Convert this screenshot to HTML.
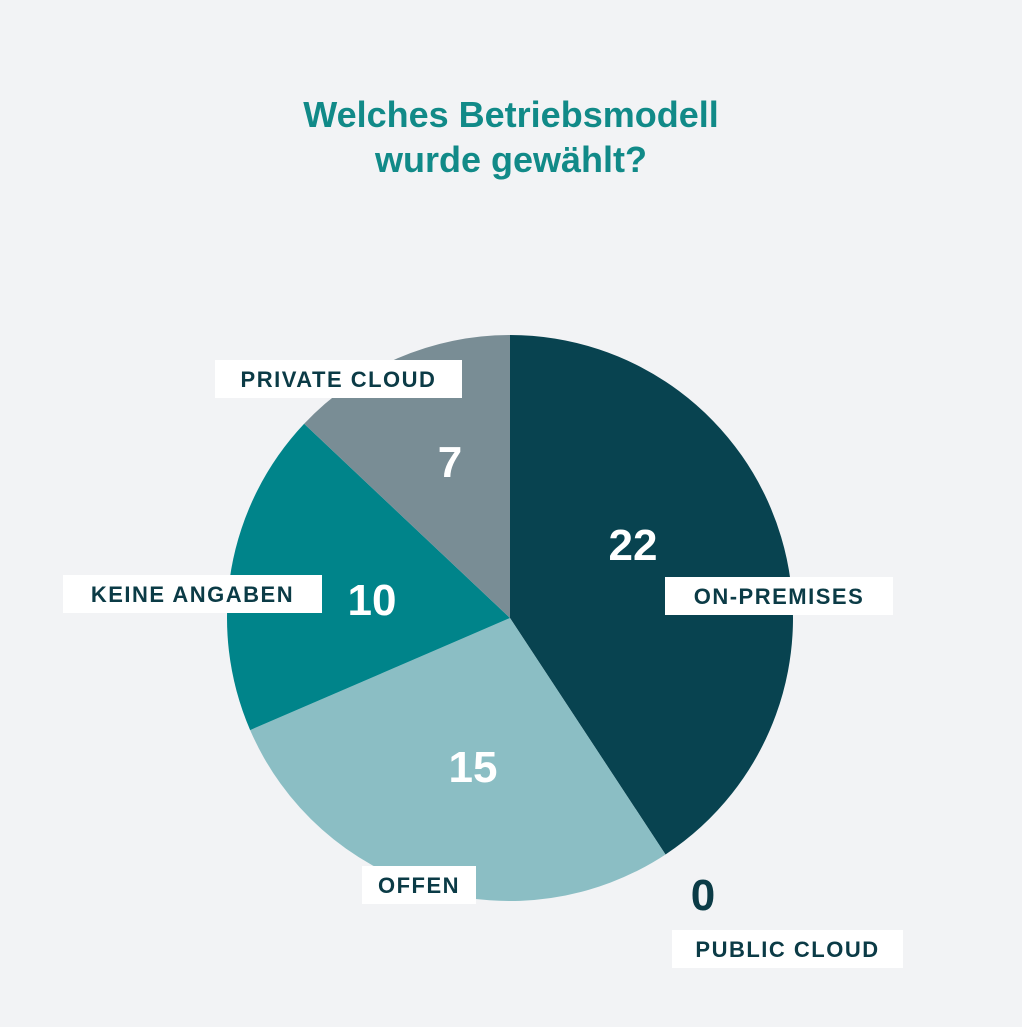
<!DOCTYPE html>
<html><head><meta charset="utf-8"><style>
html,body{margin:0;padding:0;background:#f2f3f5;}
body{width:1022px;height:1022px;overflow:hidden;font-family:"Liberation Sans",sans-serif;}
</style></head><body>
<svg width="1022" height="1022" viewBox="0 0 1022 1022">
<rect x="0" y="0" width="1022" height="1022" fill="#f2f3f5"/>
<text x="511" y="127" text-anchor="middle" font-size="36" font-weight="bold" fill="#118a88">Welches Betriebsmodell</text>
<text x="511" y="172" text-anchor="middle" font-size="36" font-weight="bold" fill="#118a88">wurde gewählt?</text>
<g id="slices"></g>
<g id="labels"></g>
</svg>
<script>
const categories=["ON-PREMISES","PUBLIC CLOUD","OFFEN","KEINE ANGABEN","PRIVATE CLOUD"];
const values=[22,0,15,10,7];
const colors=["#084350","#084350","#8bbec4","#00848a","#798d95"];
const cx=510,cy=618,r=283;
const total=values.reduce((a,b)=>a+b,0);
const ns="http://www.w3.org/2000/svg";
function pt(a,rr){return [cx+rr*Math.sin(a),cy-rr*Math.cos(a)];}
const sg=document.getElementById('slices');
let a0=0;
const mids=[];
values.forEach((v,i)=>{
  const a1=a0+v/total*2*Math.PI;
  mids.push([a0,a1]);
  if(v>0){
    const p0=pt(a0,r),p1=pt(a1,r);
    const large=(a1-a0)>Math.PI?1:0;
    const path=document.createElementNS(ns,'path');
    path.setAttribute('d',`M${cx},${cy}L${p0[0]},${p0[1]}A${r},${r} 0 ${large} 1 ${p1[0]},${p1[1]}Z`);
    path.setAttribute('fill',colors[i]);
    
    
    sg.appendChild(path);
  }
  a0=a1;
});
// label layout (positions only, not data)
const boxes=[[665,577,228],[672,930,231],[362,866,114],[63,575,259],[215,360,247]];
const numPos=[[633,560],[703,910],[473,782],[372,615],[450,477]];
const lg=document.getElementById('labels');
categories.forEach((c,i)=>{
  const b=boxes[i];
  const rect=document.createElementNS(ns,'rect');
  rect.setAttribute('x',b[0]);rect.setAttribute('y',b[1]);rect.setAttribute('width',b[2]);rect.setAttribute('height',38);
  rect.setAttribute('fill','#ffffff');
  
  
  lg.appendChild(rect);
  const t=document.createElementNS(ns,'text');
  t.setAttribute('x',b[0]+b[2]/2);t.setAttribute('y',b[1]+27);
  t.setAttribute('text-anchor','middle');t.setAttribute('font-size','22');t.setAttribute('font-weight','bold');
  t.setAttribute('letter-spacing','1.5');t.setAttribute('fill','#0b3b46');
  t.textContent=c;
  
  
  lg.appendChild(t);
  const n=document.createElementNS(ns,'text');
  const np=numPos[i];
  n.setAttribute('x',np[0]);n.setAttribute('y',np[1]);
  n.setAttribute('text-anchor','middle');n.setAttribute('font-size','44');n.setAttribute('font-weight','bold');
  n.setAttribute('fill',values[i]===0?'#0b3b46':'#ffffff');
  n.textContent=values[i];
  
  
  lg.appendChild(n);
});
</script>
</body></html>
